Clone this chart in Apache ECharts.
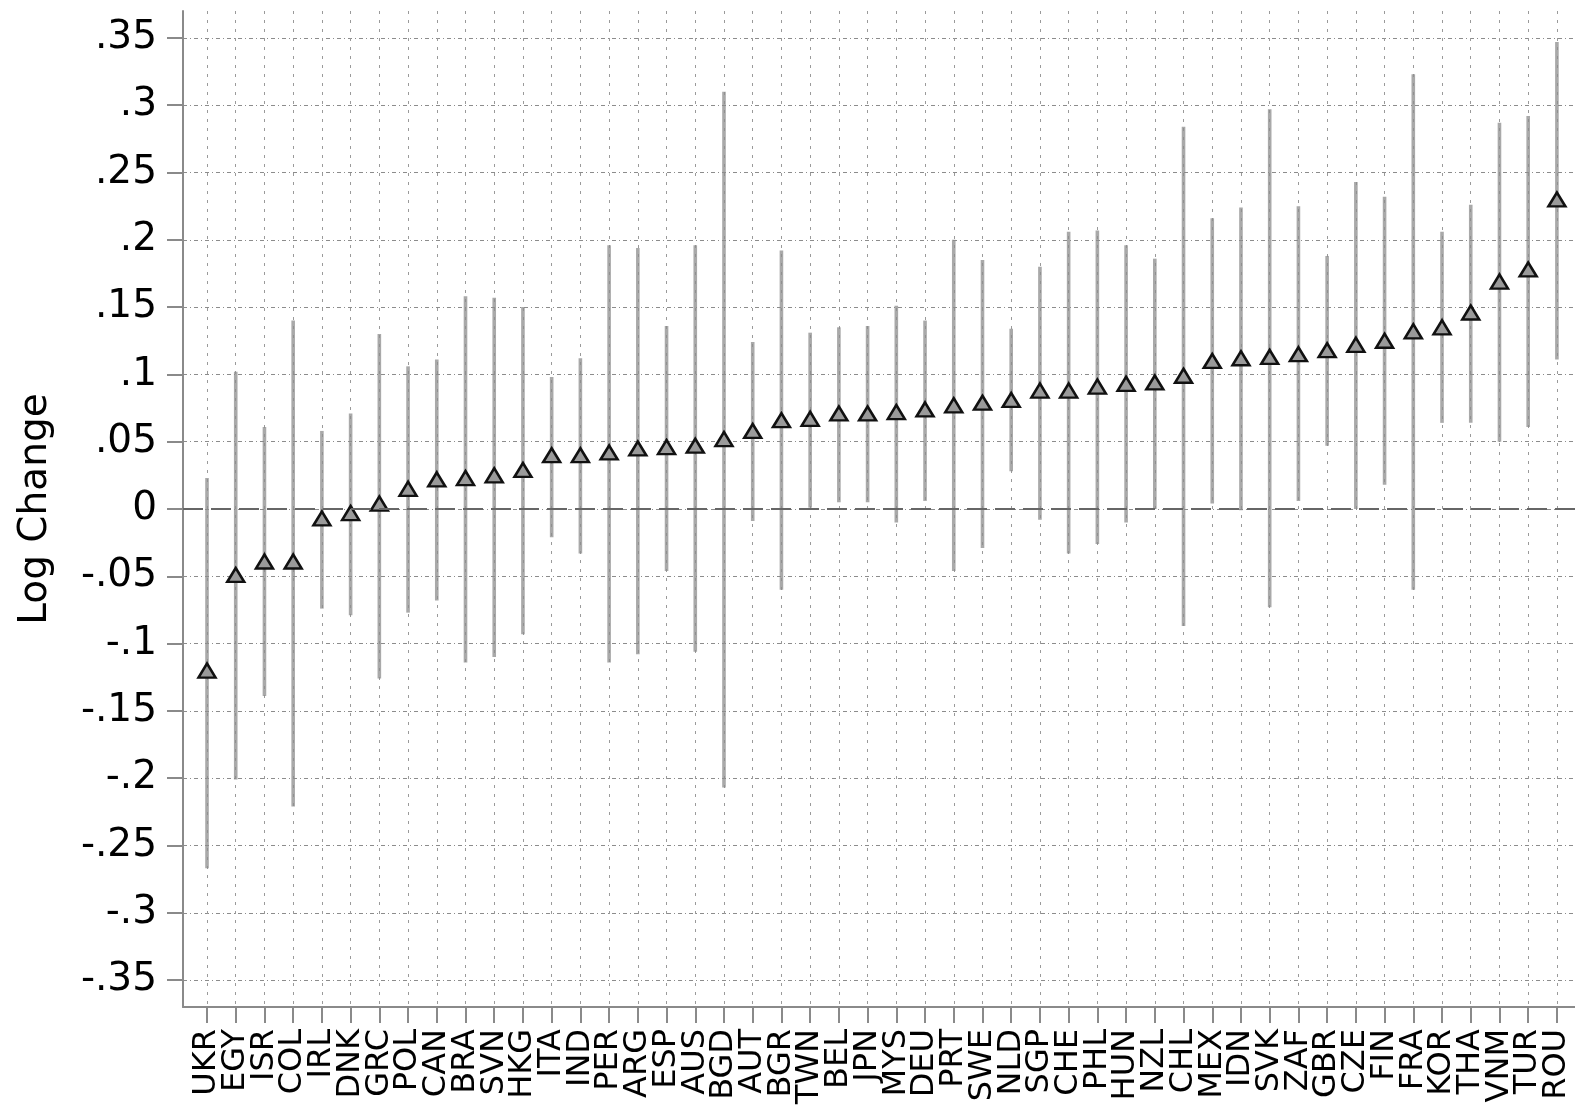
<!DOCTYPE html>
<html><head><meta charset="utf-8">
<script src="https://cdn.jsdelivr.net/npm/echarts@6/dist/echarts.min.js"></script>
<style>html,body{margin:0;padding:0;background:#fff}#c{width:1575px;height:1108px}</style>
</head><body><div id="c"></div>
<script>
const countries = ['UKR','EGY','ISR','COL','IRL','DNK','GRC','POL','CAN','BRA','SVN','HKG','ITA','IND','PER','ARG','ESP','AUS','BGD','AUT','BGR','TWN','BEL','JPN','MYS','DEU','PRT','SWE','NLD','SGP','CHE','PHL','HUN','NZL','CHL','MEX','IDN','SVK','ZAF','GBR','CZE','FIN','FRA','KOR','THA','VNM','TUR','ROU'];
const estimates = [-0.120,-0.049,-0.039,-0.039,-0.007,-0.003,0.004,0.015,0.022,0.023,0.025,0.029,0.040,0.040,0.042,0.045,0.046,0.047,0.052,0.058,0.066,0.067,0.071,0.071,0.072,0.074,0.077,0.079,0.081,0.088,0.088,0.091,0.093,0.094,0.099,0.110,0.112,0.113,0.115,0.118,0.122,0.125,0.132,0.135,0.146,0.169,0.178,0.230];
const lowerCI = [-0.267,-0.201,-0.139,-0.221,-0.074,-0.079,-0.126,-0.077,-0.068,-0.114,-0.110,-0.093,-0.021,-0.033,-0.114,-0.108,-0.046,-0.106,-0.207,-0.009,-0.060,0.001,0.005,0.005,-0.010,0.006,-0.046,-0.029,0.028,-0.008,-0.033,-0.026,-0.010,0.000,-0.087,0.004,-0.001,-0.073,0.006,0.047,0.000,0.018,-0.060,0.064,0.064,0.050,0.061,0.111];
const upperCI = [0.023,0.102,0.061,0.140,0.058,0.071,0.130,0.106,0.111,0.158,0.157,0.150,0.098,0.112,0.196,0.194,0.136,0.196,0.310,0.124,0.192,0.131,0.135,0.136,0.151,0.140,0.200,0.185,0.134,0.180,0.206,0.207,0.196,0.186,0.284,0.216,0.224,0.297,0.225,0.188,0.243,0.232,0.323,0.206,0.226,0.287,0.292,0.347];
const yTickValues = [0.35,0.3,0.25,0.2,0.15,0.1,0.05,0,-0.05,-0.1,-0.15,-0.2,-0.25,-0.3,-0.35];
const yTickLabels = ['.35','.3','.25','.2','.15','.1','.05','0','-.05','-.1','-.15','-.2','-.25','-.3','-.35'];
const yTitle = 'Log Change';

const positions = countries.map((c, i) => i + 1);
// blank guard entries at both ends so the real first/last labels are never treated as min/max labels
const labelValues = [0.2].concat(positions, [48.6]);
const chart = echarts.init(document.getElementById('c'), null, {renderer: 'canvas'});
const axisGray = '#8a8a8a';
chart.setOption({
  animation: false,
  backgroundColor: '#fff',
  textStyle: {fontFamily: 'DejaVu Sans'},
  grid: {left: 183, right: 0, top: 11, bottom: 101, containLabel: false},
  xAxis: {
    type: 'value', min: 0.164, max: 48.63,
    axisLine: {show: true, onZero: false, lineStyle: {color: axisGray, width: 2}},
    axisTick: {show: true, length: 16, customValues: positions, lineStyle: {color: axisGray, width: 2}},
    axisLabel: {customValues: labelValues, rotate: 90, margin: 22, fontSize: 32, color: '#000',
      hideOverlap: false,
      formatter: v => (Math.abs(v - Math.round(v)) < 1e-6 ? (countries[Math.round(v) - 1] || '') : '')},
    splitLine: {show: true, lineStyle: {type: [3, 6], color: '#9a9a9a', width: 1}}
  },
  yAxis: {
    type: 'value', min: -0.37, max: 0.37,
    axisLine: {show: true, onZero: false, lineStyle: {color: axisGray, width: 2}},
    axisTick: {show: true, length: 16, customValues: yTickValues, lineStyle: {color: axisGray, width: 2}},
    axisLabel: {customValues: yTickValues, fontSize: 39, margin: 26, color: '#000',
      showMinLabel: true, showMaxLabel: true,
      formatter: v => { const k = yTickValues.findIndex(t => Math.abs(t - v) < 1e-9); return k >= 0 ? yTickLabels[k] : ''; }},
    splitLine: {show: true, lineStyle: {type: [4, 3, 1, 3], color: '#8c8c8c', width: 1}},
    name: yTitle, nameLocation: 'middle', nameGap: 128,
    nameTextStyle: {fontSize: 39, color: '#000'}
  },
  series: [
    {
      type: 'custom', z: 2,
      data: countries.map((c, i) => [i + 1, lowerCI[i], upperCI[i]]),
      renderItem: (params, api) => {
        const x = api.value(0);
        const p1 = api.coord([x, api.value(1)]);
        const p2 = api.coord([x, api.value(2)]);
        return {type: 'line', shape: {x1: p1[0], y1: p1[1], x2: p2[0], y2: p2[1]},
          style: {stroke: 'rgba(140,140,140,0.75)', lineWidth: 3.6}};
      },
      markLine: {silent: true, symbol: 'none', label: {show: false},
        lineStyle: {type: [20, 8], color: '#666', width: 2},
        data: [{yAxis: 0}]}
    },
    {
      type: 'scatter', z: 3,
      data: countries.map((c, i) => [i + 1, estimates[i]]),
      symbol: 'triangle', symbolSize: [17, 14],
      itemStyle: {color: '#9a9a9a', borderColor: '#111', borderWidth: 2.5, opacity: 1}
    }
  ]
});
</script></body></html>
